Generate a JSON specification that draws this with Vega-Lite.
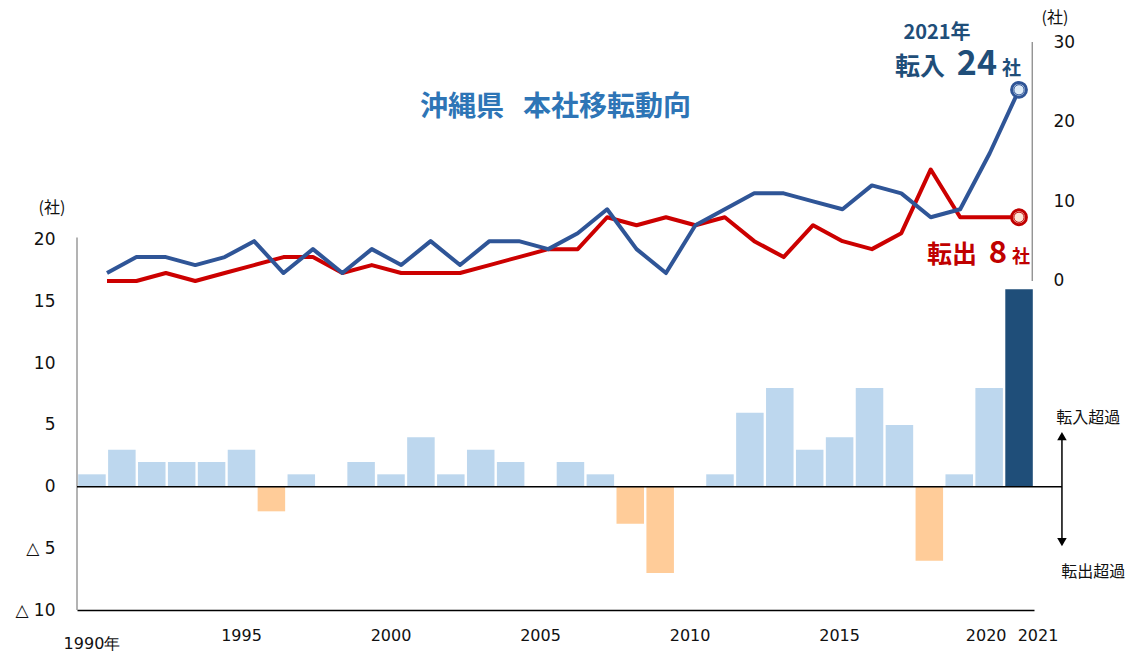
{
  "$schema": "https://vega.github.io/schema/vega-lite/v6.json",
  "width": 957,
  "height": 568,
  "autosize": {"type": "none"},
  "padding": {"left": 77, "top": 42, "right": 95, "bottom": 44},
  "background": "white",
  "config": {"view": {"stroke": null}, "axis": {"grid": false, "ticks": false}},
  "title": {
    "text": "沖縄県\u00a0\u00a0\u00a0本社移転動向",
    "font": "Noto Sans CJK JP",
    "fontSize": 28,
    "fontWeight": "bold",
    "color": "#2E75B6",
    "anchor": "middle",
    "frame": "group",
    "baseline": "middle",
    "offset": 0,
    "dy": 126
  },
  "datasets": {
    "migration": [
      {"year": 1990, "net": 1, "in_count": 1, "out_count": 0},
      {"year": 1991, "net": 3, "in_count": 3, "out_count": 0},
      {"year": 1992, "net": 2, "in_count": 3, "out_count": 1},
      {"year": 1993, "net": 2, "in_count": 2, "out_count": 0},
      {"year": 1994, "net": 2, "in_count": 3, "out_count": 1},
      {"year": 1995, "net": 3, "in_count": 5, "out_count": 2},
      {"year": 1996, "net": -2, "in_count": 1, "out_count": 3},
      {"year": 1997, "net": 1, "in_count": 4, "out_count": 3},
      {"year": 1998, "net": 0, "in_count": 1, "out_count": 1},
      {"year": 1999, "net": 2, "in_count": 4, "out_count": 2},
      {"year": 2000, "net": 1, "in_count": 2, "out_count": 1},
      {"year": 2001, "net": 4, "in_count": 5, "out_count": 1},
      {"year": 2002, "net": 1, "in_count": 2, "out_count": 1},
      {"year": 2003, "net": 3, "in_count": 5, "out_count": 2},
      {"year": 2004, "net": 2, "in_count": 5, "out_count": 3},
      {"year": 2005, "net": 0, "in_count": 4, "out_count": 4},
      {"year": 2006, "net": 2, "in_count": 6, "out_count": 4},
      {"year": 2007, "net": 1, "in_count": 9, "out_count": 8},
      {"year": 2008, "net": -3, "in_count": 4, "out_count": 7},
      {"year": 2009, "net": -7, "in_count": 1, "out_count": 8},
      {"year": 2010, "net": 0, "in_count": 7, "out_count": 7},
      {"year": 2011, "net": 1, "in_count": 9, "out_count": 8},
      {"year": 2012, "net": 6, "in_count": 11, "out_count": 5},
      {"year": 2013, "net": 8, "in_count": 11, "out_count": 3},
      {"year": 2014, "net": 3, "in_count": 10, "out_count": 7},
      {"year": 2015, "net": 4, "in_count": 9, "out_count": 5},
      {"year": 2016, "net": 8, "in_count": 12, "out_count": 4},
      {"year": 2017, "net": 5, "in_count": 11, "out_count": 6},
      {"year": 2018, "net": -6, "in_count": 8, "out_count": 14},
      {"year": 2019, "net": 1, "in_count": 9, "out_count": 8},
      {"year": 2020, "net": 8, "in_count": 16, "out_count": 8},
      {"year": 2021, "net": 16, "in_count": 24, "out_count": 8}
    ]
  },
  "data": {"name": "migration"},
  "layer": [
    {
      "mark": {"type": "bar"},
      "encoding": {
        "x": {
          "field": "year",
          "type": "ordinal",
          "scale": {"paddingInner": 0.08, "paddingOuter": 0.04},
          "axis": {
            "values": [1990, 1995, 2000, 2005, 2010, 2015, 2020, 2021],
            "labelExpr": "datum.value == 1990 ? '1990年' : datum.label",
            "labelAngle": 0,
            "title": null,
            "ticks": false,
            "domainColor": "#000000",
            "domainWidth": 1.5,
            "labelFont": "DejaVu Sans",
            "labelFontSize": 16,
            "labelColor": "#111111",
            "labelPadding": {"condition": {"test": "datum.value == 1990", "value": 25}, "value": 17},
            "labelOffset": {"condition": [{"test": "datum.value == 2021", "value": 19}, {"test": "datum.value == 2020", "value": -3}], "value": 0}
          }
        },
        "y": {
          "field": "net",
          "type": "quantitative",
          "scale": {"domain": [-10, 36.05], "nice": false, "zero": false},
          "axis": {
            "orient": "left",
            "values": [-10, -5, 0, 5, 10, 15, 20],
            "labelExpr": "datum.value < 0 ? '△ ' + abs(datum.value) : datum.label",
            "domain": false,
            "ticks": false,
            "title": null,
            "labelPadding": 22,
            "labelFont": "DejaVu Sans",
            "labelFontSize": 17,
            "labelColor": "#111111"
          }
        },
        "color": {
          "condition": [
            {"test": "datum.year == 2021", "value": "#1F4E79"},
            {"test": "datum.net < 0", "value": "#FFCC99"}
          ],
          "value": "#BDD7EE"
        }
      }
    },
    {
      "data": {"values": [{}]},
      "layer": [
        {
          "mark": {"type": "rule", "color": "#808080", "strokeWidth": 1.2},
          "encoding": {
            "x": {"datum": 1988.98, "type": "quantitative", "scale": {"domain": [1988.98, 2021.51], "nice": false, "zero": false}, "axis": null},
            "y": {"datum": -10, "type": "quantitative", "scale": {"domain": [-10, 36.05], "nice": false, "zero": false}, "axis": null},
            "y2": {"datum": 20.2}
          }
        },
        {
          "mark": {"type": "rule", "color": "#000000", "strokeWidth": 1.5},
          "encoding": {
            "x": {"datum": 1988.98, "type": "quantitative"},
            "x2": {"datum": 2022.46},
            "y": {"datum": 0, "type": "quantitative"}
          }
        },
        {
          "mark": {"type": "rule", "color": "#000000", "strokeWidth": 1.5},
          "encoding": {
            "x": {"datum": 2022.46, "type": "quantitative"},
            "y": {"datum": 4.2, "type": "quantitative"},
            "y2": {"datum": -4.6}
          }
        },
        {
          "mark": {"type": "point", "shape": "triangle-up", "filled": true, "color": "#000000", "size": 90, "opacity": 1},
          "encoding": {
            "x": {"datum": 2022.46, "type": "quantitative"},
            "y": {"datum": 4.1, "type": "quantitative"}
          }
        },
        {
          "mark": {"type": "point", "shape": "triangle-down", "filled": true, "color": "#000000", "size": 90, "opacity": 1},
          "encoding": {
            "x": {"datum": 2022.46, "type": "quantitative"},
            "y": {"datum": -4.5, "type": "quantitative"}
          }
        },
        {
          "mark": {"type": "text", "text": "転入超過", "font": "Noto Sans CJK JP", "fontSize": 16, "color": "#111111"},
          "encoding": {
            "x": {"datum": 2023.35, "type": "quantitative"},
            "y": {"datum": 5.6, "type": "quantitative"}
          }
        },
        {
          "mark": {"type": "text", "text": "転出超過", "font": "Noto Sans CJK JP", "fontSize": 16, "color": "#111111"},
          "encoding": {
            "x": {"datum": 2023.52, "type": "quantitative"},
            "y": {"datum": -6.9, "type": "quantitative"}
          }
        },
        {
          "mark": {"type": "text", "text": "(社)", "font": "Noto Sans CJK JP", "fontSize": 16, "color": "#111111"},
          "encoding": {
            "x": {"datum": 1988.13, "type": "quantitative"},
            "y": {"datum": 22.6, "type": "quantitative"}
          }
        },
        {
          "mark": {"type": "text", "text": "(社)", "font": "Noto Sans CJK JP", "fontSize": 16, "color": "#111111"},
          "encoding": {
            "x": {"datum": 2022.22, "type": "quantitative"},
            "y": {"datum": 38.0, "type": "quantitative"}
          }
        }
      ]
    },
    {
      "layer": [
        {
          "mark": {"type": "line", "color": "#CC0000", "strokeWidth": 4, "strokeJoin": "round"},
          "encoding": {
            "x": {"field": "year", "type": "quantitative", "scale": {"domain": [1988.98, 2021.51], "nice": false, "zero": false}, "axis": null},
            "y": {
              "field": "out_count",
              "type": "quantitative",
              "scale": {"domain": [-41.3, 30], "nice": false, "zero": false},
              "axis": {
                "orient": "right",
                "values": [0, 10, 20, 30],
                "domain": false,
                "ticks": false,
                "title": null,
                "labelPadding": 19,
                "labelFont": "DejaVu Sans",
                "labelFontSize": 17,
                "labelColor": "#111111"
              }
            }
          }
        },
        {
          "mark": {"type": "line", "color": "#2F5597", "strokeWidth": 4, "strokeJoin": "round"},
          "encoding": {
            "x": {"field": "year", "type": "quantitative"},
            "y": {"field": "in_count", "type": "quantitative"}
          }
        },
        {
          "transform": [{"filter": "datum.year == 2021"}],
          "layer": [
            {
              "mark": {"type": "rule", "color": "#808080", "strokeWidth": 1.2},
              "encoding": {
                "x": {"datum": 2021.45, "type": "quantitative"},
                "y": {"datum": 0, "type": "quantitative"},
                "y2": {"datum": 30}
              }
            },
            {
              "mark": {"type": "point", "shape": "circle", "filled": true, "fill": "#DEEBF7", "stroke": "#2F5597", "strokeWidth": 3, "size": 220, "opacity": 1},
              "encoding": {
                "x": {"field": "year", "type": "quantitative"},
                "y": {"field": "in_count", "type": "quantitative"}
              }
            },
            {
              "mark": {"type": "point", "shape": "circle", "filled": false, "stroke": "#2F5597", "strokeWidth": 1, "size": 105, "opacity": 1},
              "encoding": {
                "x": {"field": "year", "type": "quantitative"},
                "y": {"field": "in_count", "type": "quantitative"}
              }
            },
            {
              "mark": {"type": "point", "shape": "circle", "filled": true, "fill": "#FBE5D6", "stroke": "#C00000", "strokeWidth": 3, "size": 220, "opacity": 1},
              "encoding": {
                "x": {"field": "year", "type": "quantitative"},
                "y": {"field": "out_count", "type": "quantitative"}
              }
            },
            {
              "mark": {"type": "point", "shape": "circle", "filled": false, "stroke": "#C00000", "strokeWidth": 1, "size": 105, "opacity": 1},
              "encoding": {
                "x": {"field": "year", "type": "quantitative"},
                "y": {"field": "out_count", "type": "quantitative"}
              }
            },
            {
              "mark": {"type": "text", "text": "2021年", "font": "Noto Sans CJK JP", "fontSize": 20, "fontWeight": "bold", "color": "#1F4E79", "align": "center", "baseline": "middle", "dx": -82, "dy": -57},
              "encoding": {
                "x": {"field": "year", "type": "quantitative"},
                "y": {"field": "in_count", "type": "quantitative"}
              }
            },
            {
              "mark": {"type": "text", "text": "転入", "font": "Noto Sans CJK JP", "fontSize": 25, "fontWeight": "bold", "color": "#1F4E79", "align": "right", "baseline": "alphabetic", "dx": -74, "dy": -15},
              "encoding": {
                "x": {"field": "year", "type": "quantitative"},
                "y": {"field": "in_count", "type": "quantitative"}
              }
            },
            {
              "mark": {"type": "text", "font": "Noto Sans CJK JP", "fontSize": 34, "fontWeight": "bold", "color": "#1F4E79", "align": "right", "baseline": "alphabetic", "dx": -22, "dy": -15},
              "encoding": {
                "x": {"field": "year", "type": "quantitative"},
                "y": {"field": "in_count", "type": "quantitative"},
                "text": {"field": "in_count", "type": "quantitative"}
              }
            },
            {
              "mark": {"type": "text", "text": "社", "font": "Noto Sans CJK JP", "fontSize": 19, "fontWeight": "bold", "color": "#1F4E79", "align": "left", "baseline": "alphabetic", "dx": -17, "dy": -15},
              "encoding": {
                "x": {"field": "year", "type": "quantitative"},
                "y": {"field": "in_count", "type": "quantitative"}
              }
            },
            {
              "mark": {"type": "text", "text": "転出", "font": "Noto Sans CJK JP", "fontSize": 25, "fontWeight": "bold", "color": "#C00000", "align": "right", "baseline": "alphabetic", "dx": -42, "dy": 46},
              "encoding": {
                "x": {"field": "year", "type": "quantitative"},
                "y": {"field": "out_count", "type": "quantitative"}
              }
            },
            {
              "mark": {"type": "text", "font": "Noto Sans CJK JP", "fontSize": 31, "fontWeight": "bold", "color": "#C00000", "align": "right", "baseline": "alphabetic", "dx": -12, "dy": 46},
              "encoding": {
                "x": {"field": "year", "type": "quantitative"},
                "y": {"field": "out_count", "type": "quantitative"},
                "text": {"field": "out_count", "type": "quantitative"}
              }
            },
            {
              "mark": {"type": "text", "text": "社", "font": "Noto Sans CJK JP", "fontSize": 18, "fontWeight": "bold", "color": "#C00000", "align": "left", "baseline": "alphabetic", "dx": -7, "dy": 46},
              "encoding": {
                "x": {"field": "year", "type": "quantitative"},
                "y": {"field": "out_count", "type": "quantitative"}
              }
            }
          ]
        }
      ]
    }
  ],
  "resolve": {"scale": {"x": "independent", "y": "independent"}}
}
